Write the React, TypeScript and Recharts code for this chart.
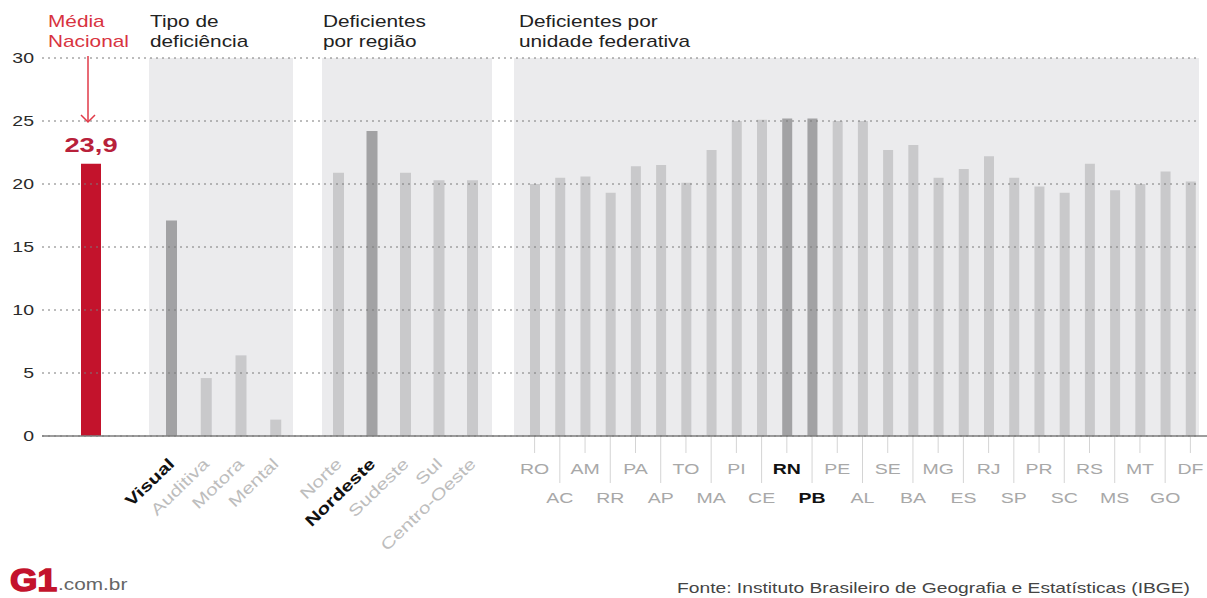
import React from "react";
import {
  BarChart,
  Bar,
  XAxis,
  YAxis,
  CartesianGrid,
  Cell,
  ReferenceLine,
  LabelList,
} from "recharts";

const W = 1207;
const H = 598;
const TOP = 58; // y of 30
const BOTTOM = 162; // 598 - y of 0
const SX = 1.3; // the source art is stretched horizontally
const FONT = "'Liberation Sans', Arial, Helvetica, sans-serif";

// data
const mediaCategories = ["Média Nacional"];
const mediaValues = [21.6];
const mediaLabels = ["23,9"];

const tipoCategories = ["Visual", "Auditiva", "Motora", "Mental"];
const tipoValues = [17.1, 4.6, 6.4, 1.3];

const regiaoCategories = ["Norte", "Nordeste", "Sudeste", "Sul", "Centro-Oeste"];
const regiaoValues = [20.9, 24.2, 20.9, 20.3, 20.3];

const ufCategories = [
  "RO", "AC", "AM", "RR", "PA", "AP", "TO", "MA", "PI", "CE", "RN", "PB", "PE", "AL",
  "SE", "BA", "MG", "ES", "RJ", "SP", "PR", "SC", "RS", "MS", "MT", "GO", "DF",
];
const ufValues = [
  20.0, 20.5, 20.6, 19.3, 21.4, 21.5, 20.1, 22.7, 25.0, 25.1, 25.2, 25.2, 25.0, 25.0,
  22.7, 23.1, 20.5, 21.2, 22.2, 20.5, 19.8, 19.3, 21.6, 19.5, 20.0, 21.0, 20.2,
];

const highlighted = ["Visual", "Nordeste", "RN", "PB"];
const yTicks = [0, 5, 10, 15, 20, 25, 30];

const toRows = (cats: string[], vals: number[], labels?: string[]) =>
  cats.map((name, i) => ({ name, value: vals[i], label: labels ? labels[i] : "" }));

const mediaData = toRows(mediaCategories, mediaValues, mediaLabels);
const tipoData = toRows(tipoCategories, tipoValues);
const regiaoData = toRows(regiaoCategories, regiaoValues);
const ufData = toRows(ufCategories, ufValues);

const BG = "#ebebed";
const LIGHT = "#c9c9cb";
const DARK = "#a2a2a4";
const RED = "#c3132c";

const barFill = (name: string) => (highlighted.includes(name) ? DARK : LIGHT);

// stretched text helper
const SText = ({ x, y, size, children, fill = "#222", weight = 400, anchor = "start" }: any) => (
  <g transform={`translate(${x},${y}) scale(${SX},1)`}>
    <text textAnchor={anchor} fontSize={size} fill={fill} fontWeight={weight} fontFamily={FONT}>
      {children}
    </text>
  </g>
);

const YTick = ({ x, y, payload }: any) => (
  <SText x={x} y={y + 5} size={15} fill="#2a2a2a" anchor="end">
    {payload.value}
  </SText>
);

const RotTick = ({ x, y, payload }: any) => {
  const bold = highlighted.includes(payload.value);
  return (
    <g transform={`translate(${x + 4},${y + 29}) rotate(-44) scale(${SX},1)`}>
      <text
        textAnchor="end"
        fontSize={16}
        fontFamily={FONT}
        fontWeight={bold ? 700 : 400}
        fill={bold ? "#111" : "#bdbdbd"}
      >
        {payload.value}
      </text>
    </g>
  );
};

const UfTick = ({ x, y, payload, index }: any) => {
  const bold = highlighted.includes(payload.value);
  const low = index % 2 === 1;
  return (
    <g>
      <line x1={x} x2={x} y1={y} y2={y + (low ? 47 : 17)} stroke="#d4d4d4" strokeWidth={1} />
      <SText
        x={x}
        y={y + (low ? 67 : 38)}
        size={15}
        anchor="middle"
        weight={bold ? 700 : 400}
        fill={bold ? "#111" : "#a8a8a8"}
      >
        {payload.value}
      </SText>
    </g>
  );
};

const MediaLabel = ({ x, y, width, value }: any) => (
  <SText x={x + width / 2} y={y - 12} size={21} weight={700} fill="#b8213a" anchor="middle">
    {value}
  </SText>
);

const layer: React.CSSProperties = { position: "absolute", left: 0, top: 0 };

const Group = ({ data, left, right, padL, padR, barSize, tick, withBg = true, color }: any) => (
  <div style={layer}>
    <BarChart
      width={W}
      height={H}
      data={data}
      margin={{ top: TOP, bottom: BOTTOM - 30, left, right: W - right }}
    >
      {withBg && <CartesianGrid horizontal={false} vertical={false} fill={BG} stroke="none" />}
      <XAxis
        dataKey="name"
        height={30}
        padding={{ left: padL, right: padR }}
        axisLine={false}
        tickLine={false}
        tickSize={0}
        tickMargin={0}
        interval={0}
        tick={tick}
      />
      <YAxis hide domain={[0, 30]} />
      <Bar dataKey="value" barSize={barSize} isAnimationActive={false}>
        {data.map((d: any) => (
          <Cell key={d.name} fill={color || barFill(d.name)} />
        ))}
        {color && <LabelList dataKey="label" content={MediaLabel} />}
      </Bar>
    </BarChart>
  </div>
);

export default function App() {
  return (
    <div style={{ position: "absolute", left: 0, top: 0, width: W, height: H, background: "#fff", fontFamily: FONT }}>
      <Group data={mediaData} left={71} right={111} padL={0} padR={0} barSize={20} tick={false} withBg={false} color={RED} />
      <Group data={tipoData} left={149} right={293} padL={5} padR={0} barSize={11} tick={<RotTick />} />
      <Group data={regiaoData} left={322} right={492} padL={0} padR={2.5} barSize={11} tick={<RotTick />} />
      <Group data={ufData} left={514} right={1199} padL={8} padR={-4} barSize={10} tick={<UfTick />} />

      {/* grid, y axis and baseline on top of the bars */}
      <div style={layer}>
        <BarChart width={W} height={H} data={ufData} margin={{ top: TOP, bottom: BOTTOM, left: 0, right: 0 }}>
          <XAxis dataKey="name" hide />
          <YAxis
            width={42}
            type="number"
            domain={[0, 30]}
            ticks={yTicks}
            axisLine={false}
            tickLine={false}
            tickSize={0}
            tickMargin={8}
            tick={<YTick />}
          />
          <Bar dataKey="value" fill="transparent" isAnimationActive={false} />
          <CartesianGrid
            vertical={false}
            x={42}
            width={1157}
            stroke="#7a7a7a"
            strokeDasharray="2 4"
            strokeWidth={1}
          />
          <ReferenceLine y={0} stroke="#7d7d7d" strokeWidth={1.5} />
        </BarChart>
      </div>

      <svg width={W} height={H} style={layer}>
        <SText x={48} y={27} size={16} fill="#d8333f">Média</SText>
        <SText x={48} y={47} size={16} fill="#d8333f">Nacional</SText>
        <line x1={88} x2={88} y1={56} y2={122} stroke="#e03a48" strokeWidth={1.5} />
        <polyline points="81,115 88,122 95,115" fill="none" stroke="#e03a48" strokeWidth={1.5} />

        <SText x={150} y={27} size={16}>Tipo de</SText>
        <SText x={150} y={47} size={16}>deficiência</SText>
        <SText x={323} y={27} size={16}>Deficientes</SText>
        <SText x={323} y={47} size={16}>por região</SText>
        <SText x={519} y={27} size={16}>Deficientes por</SText>
        <SText x={519} y={47} size={16}>unidade federativa</SText>

        <text x={10} y={591} fontSize={32} fontWeight={700} fill={RED} stroke={RED} strokeWidth={1.5} fontFamily={FONT} textLength={47} lengthAdjust="spacingAndGlyphs">
          G1
        </text>
        <SText x={58} y={590} size={16} fill="#666">.com.br</SText>
        <text x={677} y={593} fontSize={14.5} fill="#444" fontFamily={FONT} textLength={513} lengthAdjust="spacingAndGlyphs">
          Fonte: Instituto Brasileiro de Geografia e Estatísticas (IBGE)
        </text>
      </svg>
    </div>
  );
}
